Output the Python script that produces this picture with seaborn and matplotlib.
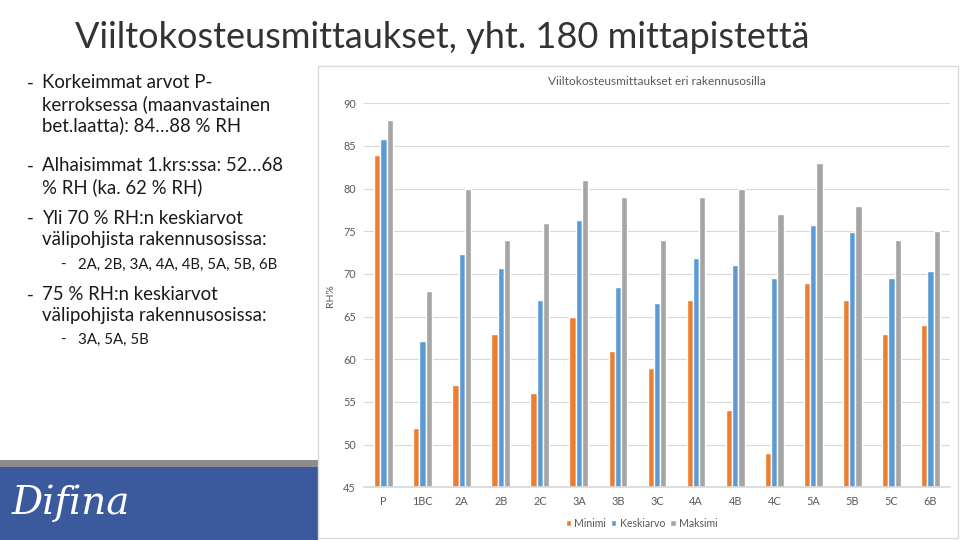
import matplotlib
matplotlib.use("Agg")
import matplotlib.pyplot as plt
import seaborn as sns
import pandas as pd
from matplotlib.patches import Rectangle

categories = ["P", "1BC", "2A", "2B", "2C", "3A", "3B", "3C", "4A", "4B", "4C", "5A", "5B", "5C", "6B"]
minimi = [84, 52, 57, 63, 56, 65, 61, 59, 67, 54, 49, 69, 67, 63, 64]
keskiarvo = [85.8, 62.2, 72.3, 70.7, 67.0, 76.3, 68.5, 66.6, 71.9, 71.1, 69.5, 75.7, 74.9, 69.5, 70.3]
maksimi = [88, 68, 80, 74, 76, 81, 79, 74, 79, 80, 77, 83, 78, 74, 75]
series_names = ["Minimi", "Keskiarvo", "Maksimi"]
colors = ["#ED7D31", "#5B9BD5", "#A5A5A5"]
yticks = [45, 50, 55, 60, 65, 70, 75, 80, 85, 90]

rows = []
for name, vals in zip(series_names, [minimi, keskiarvo, maksimi]):
    for c, v in zip(categories, vals):
        rows.append({"cat": c, "val": v, "series": name})
df = pd.DataFrame(rows)

sns.set_theme(style="white")
plt.rcParams["font.family"] = ["Lato", "DejaVu Sans"]

fig = plt.figure(figsize=(9.6, 5.4), dpi=100)
fig.patch.set_facecolor("white")

# slide title
fig.text(75 / 960, 1 - 38 / 540, "Viiltokosteusmittaukset, yht. 180 mittapistettä",
         fontsize=26, color="#333333", fontweight="normal", va="center", ha="left")

# bullet text
bx_dash, bx_text = 27 / 960, 42 / 960
sx_dash, sx_text = 60 / 960, 78 / 960
big = 13.4
small = 10.8
lines = [
    (83, "-", "Korkeimmat arvot P-", big, True),
    (104, None, "kerroksessa (maanvastainen", big, True),
    (125, None, "bet.laatta): 84…88 % RH", big, True),
    (166, "-", "Alhaisimmat 1.krs:ssa: 52…68", big, True),
    (187, None, "% RH (ka. 62 % RH)", big, True),
    (218, "-", "Yli 70 % RH:n keskiarvot", big, True),
    (240, None, "välipohjista rakennusosissa:", big, True),
    (265, "-", "2A, 2B, 3A, 4A, 4B, 5A, 5B, 6B", small, False),
    (295, "-", "75 % RH:n keskiarvot", big, True),
    (316, None, "välipohjista rakennusosissa:", big, True),
    (340, "-", "3A, 5A, 5B", small, False),
]
for y, dash, txt, fs, main in lines:
    yy = 1 - y / 540
    dx, tx = (bx_dash, bx_text) if main else (sx_dash, sx_text)
    if dash:
        fig.text(dx, yy, dash, fontsize=fs, color="#1a1a1a", va="center", ha="left")
    fig.text(tx, yy, txt, fontsize=fs, color="#1a1a1a", va="center", ha="left")

# bottom-left logo band
fig.patches.append(Rectangle((0, 1 - 467 / 540), 318 / 960, 7 / 540, transform=fig.transFigure,
                             facecolor="#8c8c8c", edgecolor="none", zorder=-2))
fig.patches.append(Rectangle((0, 0), 318 / 960, 1 - 467 / 540, transform=fig.transFigure,
                             facecolor="#3b5a9d", edgecolor="none", zorder=-2))
fig.text(12 / 960, 1 - 503 / 540, "Difina", fontsize=28, color="white", fontstyle="italic",
         family=["DejaVu Serif"], va="center", ha="left")

# chart frame
fig.patches.append(Rectangle((318 / 960, 2 / 540), 640 / 960, (538 - 66) / 540, transform=fig.transFigure,
                             facecolor="white", edgecolor="#d9d9d9", linewidth=1, zorder=-1))

ax = fig.add_axes([364 / 960, 1 - 487.3 / 540, 586 / 960, (487.3 - 103.3) / 540])
sns.barplot(data=df, x="cat", y="val", hue="series", palette=colors, width=0.48,
            ax=ax, saturation=1, errorbar=None, order=categories, hue_order=series_names)
ax.set_ylim(45, 90)
ax.set_xlim(-0.5, 14.5)
ax.set_yticks(yticks)
ax.yaxis.grid(True, color="#d9d9d9", linewidth=0.8)
ax.set_axisbelow(True)
for s in ["top", "right", "left"]:
    ax.spines[s].set_visible(False)
ax.spines["bottom"].set_color("#d9d9d9")
ax.tick_params(axis="both", colors="#595959", labelsize=7.8, length=0, pad=6)
ax.set_xlabel("")
ax.set_ylabel("RH%", fontsize=7.5, color="#595959", labelpad=6)
ax.set_facecolor("none")
ax.set_title("Viiltokosteusmittaukset eri rakennusosilla", fontsize=8.6, color="#595959", pad=13)

handles, labels = ax.get_legend_handles_labels()
ax.legend(handles, labels, loc="center", bbox_to_anchor=(0.4735, -0.093), ncol=3, frameon=False,
          fontsize=7.6, labelcolor="#595959", handlelength=0.5, handleheight=0.5, handletextpad=0.3,
          columnspacing=0.5)

fig.savefig("out.png", dpi=100)
